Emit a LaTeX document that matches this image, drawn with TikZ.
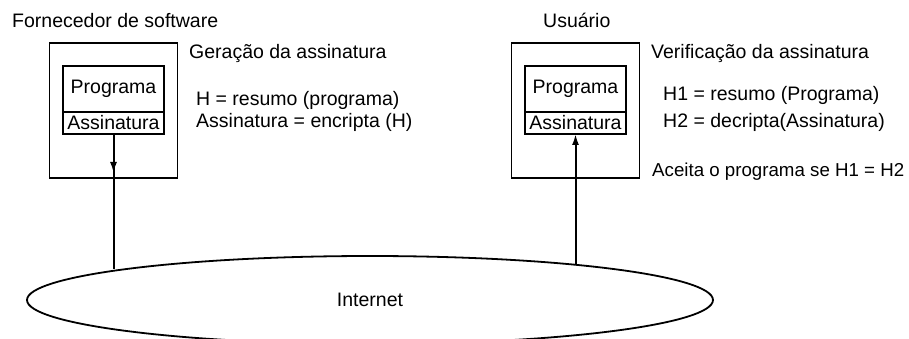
\documentclass[tikz,border=0pt]{standalone}
\usepackage{fontspec}
\setmainfont{Liberation Sans}
\usetikzlibrary{arrows.meta,positioning,shapes.geometric}

\begin{document}
\begin{tikzpicture}[x=1pt, y=-1pt, >={Latex[length=11pt,width=7pt]},
    font=\fontsize{19.5}{23}\selectfont,
    outerbox/.style={draw, line width=1.8pt, minimum width=128pt, minimum height=135pt},
    progbox/.style={draw, line width=1.5pt, outer sep=0pt, inner sep=0pt,
                    minimum width=101pt, minimum height=46pt},
    sigbox/.style={progbox, minimum height=22pt},
    lbl/.style={anchor=base west, inner sep=0pt},
    wire/.style={line width=2pt}]
\useasboundingbox (0,0) rectangle (909,339);
% the two hosts
\node[outerbox] (vendor) at (113.5,110.5) {};
\node[outerbox] (user) at (575.5,110.5) {};
\foreach \nm/\xc in {1/113.5, 2/575.5} {
  \node[progbox] (prog\nm) at (\xc,89) {Programa};
  \node[sigbox, below=0pt of prog\nm] (sig\nm) {Assinatura};
}
% labels
\node[lbl] (vendorlbl) at (12,28) {Fornecedor de software};
\node[lbl] (userlbl) at (543,28) {Usuário};
\node[lbl] (genlbl) at (189,59) {Geração da assinatura};
\node[lbl] (hash1) at (196,106) {H = resumo (programa)};
\node[lbl] (enc1) at (196,128) {Assinatura = encripta (H)};
\node[lbl] (verlbl) at (651,59) {Verificação da assinatura};
\node[lbl] (hash2) at (663,101) {H1 = resumo (Programa)};
\node[lbl] (dec2) at (663,128) {H2 = decripta(Assinatura)};
\node[lbl, font=\fontsize{18.7}{22}\selectfont] (accept) at (652,176)
  {Aceita o programa se H1 = H2};
% network
\node[draw, ellipse, line width=1.8pt, inner sep=0pt,
      minimum width=686pt, minimum height=88pt] (net) at (370,300) {Internet};
\draw[wire] (sig1.south) -- (sig1.south |- net.173);
\draw[wire, ->] (sig1.south) -- ++(0,39);
\draw[wire, ->] (sig2.south |- net.10) -- (sig2.south);
\end{tikzpicture}
\end{document}
